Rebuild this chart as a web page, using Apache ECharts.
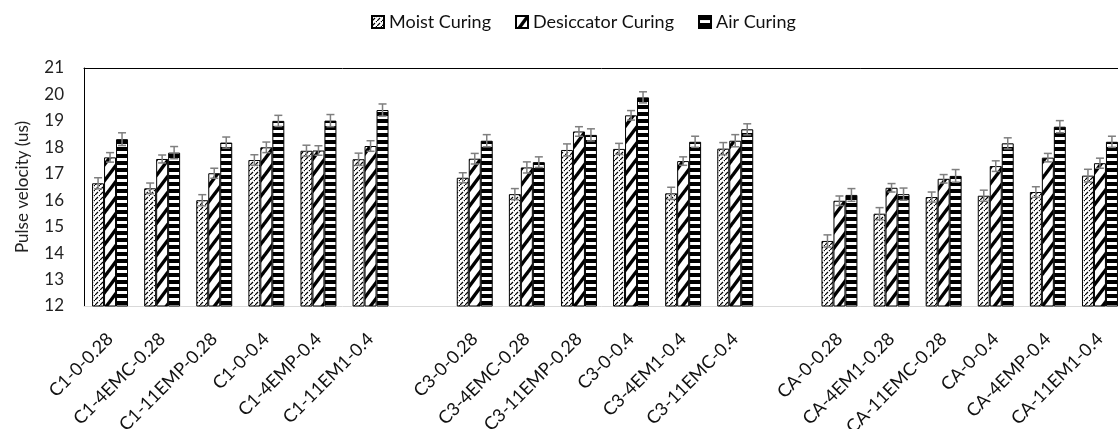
<!DOCTYPE html>
<html>
<head>
<meta charset="utf-8">
<script src="https://cdn.jsdelivr.net/npm/echarts@6/dist/echarts.min.js"></script>
<style>html,body{margin:0;padding:0;background:#fff}#c{width:1118px;height:429px}</style>
</head>
<body>
<div id="c"></div>
<script>
var categories = ['C1-0-0.28','C1-4EMC-0.28','C1-11EMP-0.28','C1-0-0.4','C1-4EMP-0.4','C1-11EM1-0.4','',
  'C3-0-0.28','C3-4EMC-0.28','C3-11EMP-0.28','C3-0-0.4','C3-4EM1-0.4','C3-11EMC-0.4','',
  'CA-0-0.28','CA-4EM1-0.28','CA-11EMC-0.28','CA-0-0.4','CA-4EMP-0.4','CA-11EM1-0.4'];
var seriesNames = ['Moist Curing','Desiccator Curing','Air Curing'];
var moist      = [16.64,16.45,16.00,17.52,17.87,17.55,'-',16.85,16.23,17.90,17.94,16.26,17.95,'-',14.46,15.49,16.12,16.17,16.31,16.93];
var desiccator = [17.62,17.56,17.02,18.00,17.88,18.05,'-',17.57,17.24,18.60,19.21,17.48,18.25,'-',15.98,16.47,16.81,17.29,17.61,17.40];
var air        = [18.31,17.80,18.18,19.00,19.01,19.41,'-',18.25,17.44,18.47,19.89,18.21,18.68,'-',16.20,16.23,16.92,18.15,18.78,18.21];
var moistErr      = [0.21,0.20,0.21,0.20,0.21,0.23,'-',0.19,0.21,0.23,0.21,0.23,0.23,'-',0.23,0.23,0.19,0.21,0.20,0.24];
var desiccatorErr = [0.18,0.15,0.19,0.20,0.18,0.20,'-',0.20,0.21,0.18,0.18,0.16,0.23,'-',0.18,0.16,0.16,0.20,0.16,0.19];
var airErr        = [0.24,0.23,0.21,0.21,0.23,0.23,'-',0.23,0.20,0.23,0.21,0.21,0.21,'-',0.24,0.23,0.24,0.21,0.23,0.21];
var yTicks = {min: 12, max: 21, interval: 1};

function makePattern(kind) {
  var c = document.createElement('canvas');
  var g = c.getContext('2d');
  if (kind === 0) {
    c.width = 5; c.height = 5;
    g.fillStyle = '#fff'; g.fillRect(0,0,5,5);
    g.strokeStyle = '#000'; g.lineWidth = 1.2;
    g.beginPath(); g.moveTo(0,5); g.lineTo(3,2); g.stroke();
    g.beginPath(); g.moveTo(4,1); g.lineTo(5,0); g.stroke();
  } else if (kind === 1) {
    c.width = 12; c.height = 16;
    g.fillStyle = '#fff'; g.fillRect(0,0,12,16);
    g.strokeStyle = '#000'; g.lineWidth = 3.4;
    g.beginPath(); g.moveTo(-2,18.7); g.lineTo(14,-2.7); g.stroke();
    g.beginPath(); g.moveTo(-14,18.7); g.lineTo(2,-2.7); g.stroke();
    g.beginPath(); g.moveTo(10,18.7); g.lineTo(26,-2.7); g.stroke();
  } else {
    c.width = 4; c.height = 7;
    g.fillStyle = '#fff'; g.fillRect(0,0,4,7);
    g.fillStyle = '#000'; g.fillRect(0,0,4,4);
  }
  return {image: c, repeat: 'repeat'};
}

var values = [moist, desiccator, air];
var errs = [moistErr, desiccatorErr, airErr];
var CAT_GAP = 0.31;
var series = [];
seriesNames.forEach(function (n, i) {
  series.push({
    name: n, type: 'bar', data: values[i], barGap: '0%', barCategoryGap: (CAT_GAP*100)+'%',
    itemStyle: {color: makePattern(i), borderColor: '#000', borderWidth: 1},
    emphasis: {disabled: true}
  });
});
seriesNames.forEach(function (n, i) {
  var d = [];
  for (var k = 0; k < categories.length; k++) {
    if (values[i][k] !== '-') d.push([k, values[i][k], errs[i][k]]);
  }
  series.push({
    name: n + ' err', type: 'custom', data: d, z: 10, silent: true,
    encode: {x: 0, y: 1},
    renderItem: function (params, api) {
      var x = api.value(0), y = api.value(1), e = api.value(2);
      var catW = api.size([1, 0])[0];
      var barW = catW * (1 - CAT_GAP) / 3;
      var off = (i - 1) * barW;
      var top = api.coord([x, y + e]);
      var bot = api.coord([x, y - e]);
      var cx = top[0] + off;
      var cap = 4;
      var st = {stroke: '#7f7f7f', lineWidth: 1.5};
      return {type: 'group', children: [
        {type: 'line', shape: {x1: cx, y1: top[1], x2: cx, y2: bot[1]}, style: st},
        {type: 'line', shape: {x1: cx - cap, y1: top[1], x2: cx + cap, y2: top[1]}, style: st},
        {type: 'line', shape: {x1: cx - cap, y1: bot[1], x2: cx + cap, y2: bot[1]}, style: st}
      ]};
    }
  });
});

var FONT = 'Lato';
var chart = echarts.init(document.getElementById('c'), null, {renderer: 'canvas'});
chart.setOption({
  animation: false,
  backgroundColor: '#fff',
  textStyle: {fontFamily: FONT},
  legend: {
    data: seriesNames, top: 8, left: 366, itemWidth: 12, itemHeight: 12, itemGap: 24,
    icon: 'rect',
    textStyle: {fontFamily: FONT, fontSize: 18, color: '#111'}
  },
  grid: {left: 84, right: -8, top: 68, bottom: 123, containLabel: false, outerBoundsMode: 'none'},
  xAxis: [{
    type: 'category', data: categories, position: 'bottom',
    axisLine: {lineStyle: {color: '#d9d9d9', width: 1}},
    axisTick: {show: false},
    axisLabel: {rotate: 45, interval: 0, fontFamily: FONT, fontSize: 18, color: '#111', margin: 30}
  }, {
    type: 'category', data: categories, position: 'top',
    axisLine: {lineStyle: {color: '#000', width: 1}},
    axisTick: {show: false}, axisLabel: {show: false}
  }],
  yAxis: {
    type: 'value', min: yTicks.min, max: yTicks.max, interval: yTicks.interval,
    name: 'Pulse velocity (us)', nameLocation: 'middle', nameGap: 53,
    nameTextStyle: {fontFamily: FONT, fontSize: 17, color: '#222'},
    axisLine: {show: true, lineStyle: {color: '#000', width: 1}},
    axisTick: {show: false},
    splitLine: {show: false},
    axisLabel: {fontFamily: FONT, fontSize: 17, color: '#222', margin: 20}
  },
  series: series
});
</script>
</body>
</html>
